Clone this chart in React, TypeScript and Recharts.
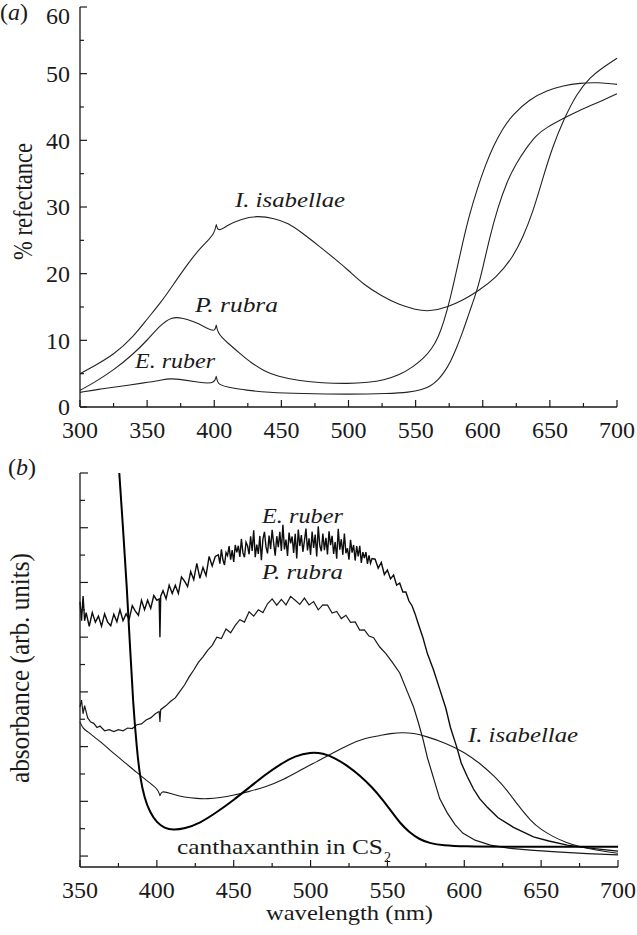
import { Line, LineChart, XAxis, YAxis } from 'recharts';

const SERIF = 'Liberation Serif, Times New Roman, serif';
const INK = '#1a1a1a';

// ---- panel (a): % reflectance ----
const reflTicksX = [300, 325, 350, 375, 400, 425, 450, 475, 500, 525, 550, 575, 600, 625, 650, 675, 700];
const reflTicksY = [0, 5, 10, 15, 20, 25, 30, 35, 40, 45, 50, 55, 60];

const reflIsabellae: [number, number][] = [
  [300, 5.0], [310, 6.1], [325, 7.8], [340, 10.6], [350, 13.2], [360, 15.6], [370, 18.5], [380, 21.4],
  [390, 24.0], [401, 26.0], [401.5, 28.0], [402, 26.1], [410, 27.3], [420, 28.2], [432, 28.7], [445, 28.3],
  [455, 27.6], [465, 26.2], [479, 24.0], [490, 22.2], [500, 20.5], [511, 18.4], [525, 16.6], [538, 15.3],
  [550, 14.6], [560, 14.3], [574, 15.0], [585, 16.0], [596, 17.3], [610, 19.4], [622, 22.3], [630, 25.5],
  [637, 29.0], [645, 34.5], [652, 39.0], [660, 43.0], [670, 47.0], [680, 49.5], [690, 51.0], [700, 52.3],
];

const reflRubra: [number, number][] = [
  [300, 2.5], [310, 3.6], [325, 5.5], [340, 8.0], [350, 10.0], [360, 12.3], [368, 13.5], [376, 13.4],
  [385, 12.8], [395, 11.8], [401, 11.2], [401.5, 12.8], [402, 11.1], [410, 9.6], [420, 7.9], [427, 6.7],
  [437, 5.4], [447, 4.6], [464, 3.9], [480, 3.6], [500, 3.5], [515, 3.7], [526, 4.0], [538, 4.8],
  [548, 6.0], [556, 7.3], [562, 8.7], [567, 10.5], [571, 12.8], [575, 15.6], [580, 20.0], [585, 24.6],
  [590, 28.8], [596, 32.8], [602, 36.3], [608, 39.2], [615, 41.8], [622, 43.8], [635, 46.2], [648, 47.5],
  [660, 48.2], [672, 48.6], [686, 48.7], [700, 48.4],
];

const reflRuber: [number, number][] = [
  [300, 2.2], [315, 2.7], [330, 3.1], [347, 3.6], [360, 4.0], [367, 4.3], [376, 4.1], [389, 3.7],
  [401, 3.4], [401.5, 5.2], [402, 3.3], [410, 3.0], [424, 2.5], [440, 2.2], [464, 2.0], [500, 1.9],
  [530, 2.0], [545, 2.2], [555, 2.6], [561, 3.1], [567, 4.1], [572, 5.4], [576, 6.8], [580, 8.6],
  [585, 11.2], [590, 14.2], [596, 17.6], [600, 20.8], [605, 25.3], [611, 29.8], [618, 33.8], [625, 36.6],
  [633, 39.0], [640, 40.8], [648, 42.0], [660, 43.3], [672, 44.5], [685, 45.6], [700, 47.0],
];

// ---- panel (b): absorbance, arbitrary units ----
const absTicksX = [350, 375, 400, 425, 450, 475, 500, 525, 550, 575, 600, 625, 650, 675, 700];
const absTicksY = [0, 0.1, 0.2, 0.3, 0.4, 0.5, 0.6, 0.7, 0.8, 0.9, 1.0, 1.1, 1.2, 1.3, 1.4];

const absRuber: [number, number][] = [
  [350, 0.93], [351, 0.86], [352, 0.95], [353, 0.86], [354, 0.89], [356, 0.84], [358, 0.89], [360, 0.855],
  [362, 0.877], [364, 0.84], [366, 0.885], [368, 0.855], [370, 0.842], [372, 0.884], [374, 0.856], [376, 0.9],
  [378, 0.86], [380, 0.885], [382, 0.865], [384, 0.915], [386, 0.895], [388, 0.88], [390, 0.935], [392, 0.9],
  [394, 0.935], [396, 0.905], [398, 0.952], [400, 0.935], [401.5, 0.94], [402, 0.8], [402.5, 0.95], [404, 0.97],
  [406, 0.94], [408, 0.99], [410, 0.96], [412, 0.99], [414, 0.96], [416, 1.02], [418, 1.005], [420, 0.985],
  [422, 1.04], [424, 1.01], [426, 1.07], [428, 1.015], [430, 1.055], [432, 1.025], [434, 1.095], [436, 1.06],
  [438, 1.095],
  [440, 1.101], [441, 1.069], [442, 1.121], [443, 1.082], [444, 1.064], [445, 1.109], [446, 1.098], [447, 1.133],
  [448, 1.083], [449, 1.118], [450, 1.075], [451, 1.137], [452, 1.11], [453, 1.134], [454, 1.093], [455, 1.159],
  [456, 1.108], [457, 1.092], [458, 1.147], [459, 1.134], [460, 1.103], [461, 1.169], [462, 1.115], [463, 1.191],
  [464, 1.092], [465, 1.138], [466, 1.104], [467, 1.17], [468, 1.081], [469, 1.158], [470, 1.185], [471, 1.13],
  [472, 1.106], [473, 1.171], [474, 1.122], [475, 1.192], [476, 1.143], [477, 1.098], [478, 1.169], [479, 1.129],
  [480, 1.185], [481, 1.115], [482, 1.211], [483, 1.121], [484, 1.157], [485, 1.097], [486, 1.182], [487, 1.143],
  [488, 1.168], [489, 1.108], [490, 1.178], [491, 1.088], [492, 1.193], [493, 1.133], [494, 1.173], [495, 1.112],
  [496, 1.152], [497, 1.197], [498, 1.117], [499, 1.161], [500, 1.101], [501, 1.186], [502, 1.126], [503, 1.175],
  [504, 1.095], [505, 1.205], [506, 1.135], [507, 1.114], [508, 1.179], [509, 1.118], [510, 1.163], [511, 1.102],
  [512, 1.187], [513, 1.136], [514, 1.17], [515, 1.104], [516, 1.148], [517, 1.087], [518, 1.196], [519, 1.12],
  [520, 1.158], [521, 1.101], [522, 1.179], [523, 1.107], [524, 1.125], [525, 1.083], [526, 1.156], [527, 1.109],
  [528, 1.137], [529, 1.08], [530, 1.133], [531, 1.095], [532, 1.134], [533, 1.071], [534, 1.111], [535, 1.089],
  [536, 1.111], [537, 1.068], [538, 1.099], [539, 1.07], [540, 1.087],
  [542, 1.085], [544, 1.052], [546, 1.073], [548, 1.029], [550, 1.045], [552, 1.013], [554, 1.027], [556, 0.99],
  [558, 0.998], [560, 0.965], [562, 0.965], [564, 0.932], [566, 0.915], [568, 0.885], [570, 0.85], [573, 0.8],
  [576, 0.74], [580, 0.68], [584, 0.61], [588, 0.54], [591, 0.47], [595, 0.4], [598, 0.34], [602, 0.29],
  [606, 0.245], [610, 0.21], [615, 0.178], [622, 0.14], [632, 0.105], [645, 0.07], [655, 0.055], [667, 0.04],
  [680, 0.03], [700, 0.018],
];

const absRubra: [number, number][] = [
  [350, 0.545], [351, 0.57], [352, 0.52], [353, 0.55], [355, 0.505], [357, 0.49], [359, 0.485], [361, 0.47],
  [363, 0.475], [366, 0.458], [369, 0.462], [372, 0.455], [375, 0.462], [378, 0.458], [381, 0.468], [384, 0.466],
  [387, 0.48], [390, 0.483], [393, 0.497], [396, 0.505], [399, 0.52], [401.5, 0.528], [402, 0.49], [402.5, 0.535],
  [406, 0.55], [409, 0.566], [412, 0.578], [415, 0.602], [418, 0.625], [421, 0.655], [424, 0.68], [427, 0.708],
  [430, 0.728], [433, 0.752], [436, 0.77], [439, 0.8], [442, 0.795], [445, 0.83], [448, 0.816], [451, 0.843],
  [454, 0.864], [457, 0.855], [460, 0.893], [463, 0.877], [466, 0.9], [469, 0.89], [472, 0.922], [475, 0.94],
  [478, 0.917], [481, 0.938], [484, 0.918], [487, 0.949], [490, 0.935], [493, 0.92], [496, 0.943], [499, 0.918],
  [502, 0.93], [505, 0.9], [508, 0.918], [511, 0.917], [514, 0.888], [517, 0.894], [520, 0.868], [523, 0.88],
  [526, 0.854], [529, 0.856], [532, 0.826], [535, 0.827], [538, 0.804], [541, 0.798], [545, 0.764], [549, 0.74],
  [553, 0.71], [558, 0.669], [563, 0.6], [567, 0.545], [570, 0.49], [573, 0.43], [576, 0.36], [580, 0.285],
  [584, 0.21], [589, 0.157], [594, 0.115], [599, 0.084], [607, 0.058], [617, 0.04], [630, 0.028], [643, 0.022],
  [660, 0.015], [680, 0.009], [700, 0.004],
];

const absIsabellae: [number, number][] = [
  [350, 0.49], [352, 0.465], [355, 0.455], [360, 0.432], [365, 0.41], [373, 0.37], [380, 0.338], [386, 0.31],
  [393, 0.277], [401.5, 0.243], [402, 0.21], [402.5, 0.242], [410, 0.226], [418, 0.215], [426, 0.21], [433, 0.209],
  [441, 0.213], [450, 0.222], [460, 0.236], [471, 0.253], [482, 0.278], [493, 0.313], [504, 0.345], [515, 0.378],
  [525, 0.408], [536, 0.432], [545, 0.44], [552, 0.448], [560, 0.452], [567, 0.449], [575, 0.438], [588, 0.413],
  [600, 0.38], [610, 0.34], [620, 0.29], [628, 0.24], [635, 0.185], [643, 0.13], [650, 0.096], [658, 0.07],
  [666, 0.05], [675, 0.034], [685, 0.022], [700, 0.01],
];

const absCanthaxanthin: [number, number][] = [
  [371, 1.8], [375, 1.44], [378, 1.2], [380.5, 0.98], [382.5, 0.77], [384.5, 0.56], [387, 0.39], [389, 0.29],
  [392, 0.21], [395.5, 0.16], [400, 0.122], [405, 0.102], [410.5, 0.095], [418, 0.1], [428, 0.12], [439, 0.16],
  [450, 0.205], [460, 0.25], [470, 0.295], [480, 0.335], [490, 0.366], [500, 0.38], [508, 0.376], [516, 0.358],
  [524, 0.33], [532, 0.295], [540, 0.252], [547, 0.205], [553, 0.16], [558, 0.122], [564, 0.088], [571, 0.06],
  [578, 0.046], [586, 0.039], [600, 0.035], [625, 0.034], [660, 0.034], [700, 0.034],
];

const toPoints = (rows: [number, number][]) => rows.map(([x, y]) => ({ x, y }));

const digitStyle = { fontFamily: SERIF, fontSize: 24, fill: INK };

// ticks drawn inward, longer on labelled values
function reflYTick({ x, y, payload }: any) {
  const v = payload.value;
  const axisX = x + 10;
  const major = v % 10 === 0;
  return (
    <g>
      <line x1={axisX} x2={axisX + (major ? 7 : 4)} y1={y} y2={y} stroke={INK} strokeWidth={1.2} />
      {major && (
        <text x={x} y={v === 60 ? y + 16.5 : y} dy={v === 60 ? 0 : '0.35em'} textAnchor="end" style={digitStyle}>
          {v}
        </text>
      )}
    </g>
  );
}

function absYTick({ x, y, payload }: any) {
  const major = Math.round(payload.value * 10) % 2 === 0;
  const axisX = x + 10;
  return <line x1={axisX} x2={axisX + (major ? 8 : 5)} y1={y} y2={y} stroke={INK} strokeWidth={1.2} />;
}

function wavelengthTick({ x, y, payload }: any) {
  const v = payload.value;
  const axisY = y - 14;
  const major = v % 50 === 0;
  return (
    <g>
      <line x1={x} x2={x} y1={axisY} y2={axisY - (major ? 7 : 4)} stroke={INK} strokeWidth={1.2} />
      {major && (
        <text x={x} y={y} dy="0.71em" textAnchor="middle" style={digitStyle}>
          {v}
        </text>
      )}
    </g>
  );
}

const axisLine = { stroke: INK, strokeWidth: 1.3 };

function Word({ x, y, width, italic, children }: any) {
  return (
    <text
      x={x}
      y={y}
      textLength={width}
      lengthAdjust="spacingAndGlyphs"
      style={{ fontFamily: SERIF, fontSize: 21, fontStyle: italic ? 'italic' : 'normal', fill: INK }}
    >
      {children}
    </text>
  );
}

export default function App() {
  return (
    <div style={{ position: 'absolute', left: 0, top: 0, width: 637, height: 935, background: '#fff', fontFamily: SERIF }}>
      <div style={{ position: 'absolute', left: 0, top: 0 }}>
        <LineChart width={637} height={450} margin={{ top: 7, right: 20, bottom: 13, left: 10 }}>
          <XAxis
            type="number"
            dataKey="x"
            domain={[300, 700]}
            ticks={reflTicksX}
            interval={0}
            height={30}
            tickSize={0}
            tickMargin={14}
            tickLine={false}
            axisLine={axisLine}
            tick={wavelengthTick}
          />
          <YAxis
            type="number"
            domain={[0, 60]}
            ticks={reflTicksY}
            interval={0}
            width={70}
            tickSize={0}
            tickMargin={10}
            tickLine={false}
            axisLine={axisLine}
            tick={reflYTick}
          />
          <Line data={toPoints(reflIsabellae)} dataKey="y" type="basis" stroke="#222" strokeWidth={1.1} dot={false} activeDot={false} isAnimationActive={false} />
          <Line data={toPoints(reflRubra)} dataKey="y" type="basis" stroke="#222" strokeWidth={1.1} dot={false} activeDot={false} isAnimationActive={false} />
          <Line data={toPoints(reflRuber)} dataKey="y" type="basis" stroke="#222" strokeWidth={1.1} dot={false} activeDot={false} isAnimationActive={false} />
        </LineChart>
      </div>

      <div style={{ position: 'absolute', left: 0, top: 460 }}>
        <LineChart width={637} height={475} margin={{ top: 13, right: 19, bottom: 18, left: 10 }}>
          <XAxis
            type="number"
            dataKey="x"
            domain={[350, 700]}
            ticks={absTicksX}
            interval={0}
            height={50}
            tickSize={0}
            tickMargin={14}
            tickLine={false}
            axisLine={axisLine}
            tick={wavelengthTick}
          />
          <YAxis
            type="number"
            domain={[-0.04, 1.4]}
            ticks={absTicksY}
            interval={0}
            width={70}
            tickSize={0}
            tickMargin={10}
            tickLine={false}
            axisLine={axisLine}
            tick={absYTick}
            allowDataOverflow
          />
          <Line data={toPoints(absRuber)} dataKey="y" type="linear" stroke="#0d0d0d" strokeWidth={1.4} dot={false} activeDot={false} isAnimationActive={false} />
          <Line data={toPoints(absRubra)} dataKey="y" type="linear" stroke="#1a1a1a" strokeWidth={1.2} dot={false} activeDot={false} isAnimationActive={false} />
          <Line data={toPoints(absIsabellae)} dataKey="y" type="basis" stroke="#1a1a1a" strokeWidth={1.1} dot={false} activeDot={false} isAnimationActive={false} />
          <Line data={toPoints(absCanthaxanthin)} dataKey="y" type="basis" stroke="#000" strokeWidth={2} dot={false} activeDot={false} isAnimationActive={false} />
        </LineChart>
      </div>

      <svg width={637} height={935} style={{ position: 'absolute', left: 0, top: 0, pointerEvents: 'none' }}>
        <text x={0} y={20} style={{ fontFamily: SERIF, fontSize: 24, fill: INK }}>
          (<tspan fontStyle="italic">a</tspan>)
        </text>
        <text x={8} y={475} style={{ fontFamily: SERIF, fontSize: 24, fill: INK }}>
          (<tspan fontStyle="italic">b</tspan>)
        </text>

        <text transform="translate(32 260) rotate(-90) scale(1 1.25)" textLength={117} lengthAdjust="spacingAndGlyphs" style={{ fontFamily: SERIF, fontSize: 22, fill: INK }}>
          % refectance
        </text>
        <text transform="translate(29 783) rotate(-90) scale(1 1.2)" textLength={230} lengthAdjust="spacingAndGlyphs" style={{ fontFamily: SERIF, fontSize: 22, fill: INK }}>
          absorbance (arb. units)
        </text>

        <Word x={235} y={207} width={110} italic>I. isabellae</Word>
        <Word x={195} y={312} width={83} italic>P. rubra</Word>
        <Word x={135} y={368} width={80} italic>E. ruber</Word>

        <Word x={262} y={523} width={81} italic>E. ruber</Word>
        <Word x={262} y={579} width={81} italic>P. rubra</Word>
        <Word x={468} y={742} width={110} italic>I. isabellae</Word>
        <Word x={177} y={854} width={206}>canthaxanthin in CS</Word>
        <text x={384} y={862} style={{ fontFamily: SERIF, fontSize: 14, fill: INK }}>2</text>

        <Word x={266} y={920} width={167}>wavelength (nm)</Word>
      </svg>
    </div>
  );
}
